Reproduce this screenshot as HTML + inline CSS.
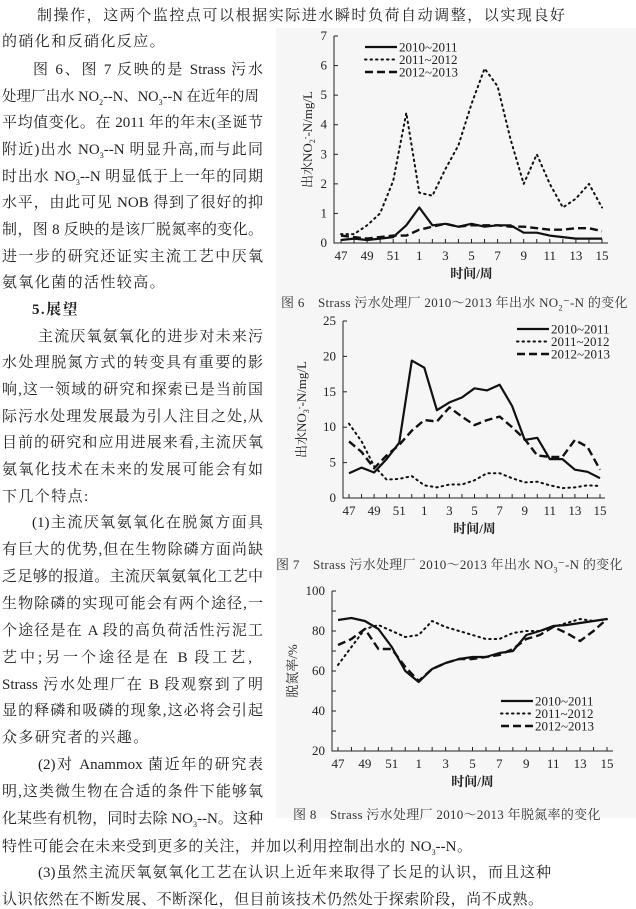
<!DOCTYPE html>
<html><head><meta charset="utf-8">
<style>
body{margin:0;width:636px;height:907px;overflow:hidden;background:#fff;position:relative;font-family:"Liberation Serif","Noto Serif CJK SC","Noto Sans CJK SC",serif;color:#222}
.l{position:absolute;font-size:15px;letter-spacing:1.4px;white-space:nowrap;line-height:18px}
.j{letter-spacing:0;white-space:normal;text-align:justify;text-align-last:justify;width:261px;height:18px;overflow:visible}
sub{line-height:0}
.cap{position:absolute;font-size:13px;white-space:nowrap;color:#333;letter-spacing:0.3px}
svg{position:absolute;left:0;top:0}
</style></head><body>
<div style="position:absolute;left:276px;top:28px;width:360px;height:790px;background:#f6f6f6"></div>
<div>
<div class="l j" style="left:37px;top:7px;width:528px">制操作，这两个监控点可以根据实际进水瞬时负荷自动调整，以实现良好</div>
<div class="l" style="left:2px;top:33px">的硝化和反硝化反应。</div>
<div class="l j" style="left:33px;top:61px;width:230px">图 6、图 7 反映的是 Strass 污水</div>
<div class="l" style="left:2px;top:88px;font-size:14.5px;letter-spacing:0">处理厂出水 NO<sub style="font-size:8px">2</sub>--N、NO<sub style="font-size:8px">3</sub>--N 在近年的周</div>
<div class="l j" style="left:2px;top:114px">平均值变化。在 2011 年的年末(圣诞节</div>
<div class="l j" style="left:2px;top:141px">附近)出水 NO<sub style="font-size:8px">3</sub>--N 明显升高,而与此同</div>
<div class="l j" style="left:2px;top:168px">时出水 NO<sub style="font-size:8px">3</sub>--N 明显低于上一年的同期</div>
<div class="l j" style="left:2px;top:194px">水平，由此可见 NOB 得到了很好的抑</div>
<div class="l j" style="left:2px;top:221px">制，图 8 反映的是该厂脱氮率的变化。</div>
<div class="l j" style="left:2px;top:248px">进一步的研究还证实主流工艺中厌氧</div>
<div class="l" style="left:2px;top:274px">氨氧化菌的活性较高。</div>
<div class="l" style="left:32px;top:301px;font-weight:bold">5.展望</div>
<div class="l j" style="left:38px;top:328px;width:225px">主流厌氧氨氧化的进步对未来污</div>
<div class="l j" style="left:2px;top:354px">水处理脱氮方式的转变具有重要的影</div>
<div class="l j" style="left:2px;top:381px">响,这一领域的研究和探索已是当前国</div>
<div class="l j" style="left:2px;top:408px">际污水处理发展最为引人注目之处,从</div>
<div class="l j" style="left:2px;top:434px">目前的研究和应用进展来看,主流厌氧</div>
<div class="l j" style="left:2px;top:461px">氨氧化技术在未来的发展可能会有如</div>
<div class="l" style="left:2px;top:488px">下几个特点:</div>
<div class="l j" style="left:32px;top:514px;width:231px">(1)主流厌氧氨氧化在脱氮方面具</div>
<div class="l j" style="left:2px;top:541px">有巨大的优势,但在生物除磷方面尚缺</div>
<div class="l j" style="left:2px;top:568px">乏足够的报道。主流厌氧氨氧化工艺中</div>
<div class="l j" style="left:2px;top:595px">生物除磷的实现可能会有两个途径,一</div>
<div class="l j" style="left:2px;top:622px">个途径是在 A 段的高负荷活性污泥工</div>
<div class="l j" style="left:2px;top:649px;width:250px">艺中;另一个途径是在 B 段工艺,</div>
<div class="l j" style="left:2px;top:676px">Strass 污水处理厂在 B 段观察到了明</div>
<div class="l j" style="left:2px;top:702px">显的释磷和吸磷的现象,这必将会引起</div>
<div class="l" style="left:2px;top:729px">众多研究者的兴趣。</div>
<div class="l j" style="left:38px;top:756px;width:225px">(2)对 Anammox 菌近年的研究表</div>
<div class="l j" style="left:2px;top:783px">明,这类微生物在合适的条件下能够氧</div>
<div class="l j" style="left:2px;top:810px">化某些有机物，同时去除 NO<sub style="font-size:8px">3</sub>--N。这种</div>
<div class="l j" style="left:2px;top:838px;width:470px">特性可能会在未来受到更多的关注，并加以利用控制出水的 NO<sub style="font-size:8px">3</sub>--N。</div>
<div class="l j" style="left:38px;top:864px;width:513px">(3)虽然主流厌氧氨氧化工艺在认识上近年来取得了长足的认识，而且这种</div>
<div class="l j" style="left:2px;top:891px;width:541px">认识依然在不断发展、不断深化，但目前该技术仍然处于探索阶段，尚不成熟。</div>
</div>
<div class="cap" style="left:281px;top:292px">图 6　Strass 污水处理厂 2010～2013 年出水 NO<sub style="font-size:8px">2</sub>⁻-N 的变化</div>
<div class="cap" style="left:276px;top:554px">图 7　Strass 污水处理厂 2010～2013 年出水 NO<sub style="font-size:8px">3</sub>⁻-N 的变化</div>
<div class="cap" style="left:293px;top:804px">图 8　Strass 污水处理厂 2010～2013 年脱氮率的变化</div>
<svg id="svg" width="636" height="907"></svg>
<script>
const weeks=["47","48","49","50","51","52","1","2","3","4","5","6","7","8","9","10","11","12","13","14","15"];
const tickLabels=["47","49","51","1","3","5","7","9","11","13","15"];
const seriesNames=["2010~2011","2011~2012","2012~2013"];
const no2A=[0.1,0.15,0.1,0.15,0.2,0.6,1.2,0.6,0.65,0.55,0.65,0.55,0.6,0.6,0.35,0.35,0.25,0.2,0.15,0.15,0.15];
const no2B=[0.3,0.3,0.6,1.0,2.1,4.4,1.7,1.6,2.5,3.3,4.7,5.9,5.3,3.5,2.0,3.0,2.0,1.2,1.5,2.0,1.2];
const no2C=[0.25,0.2,0.15,0.2,0.25,0.25,0.45,0.55,0.65,0.55,0.6,0.6,0.6,0.55,0.55,0.5,0.45,0.45,0.5,0.5,0.4];
const no3A=[3.5,4.3,3.6,5.5,7.8,19.4,18.4,12.4,13.5,14.2,15.5,15.2,16.0,13.0,8.2,8.5,5.5,5.5,4.0,3.7,2.8];
const no3B=[10.5,8,4.5,2.6,2.7,3.1,1.8,1.5,1.9,1.9,2.5,3.5,3.5,2.8,2.2,2.3,1.8,1.4,1.5,1.8,1.7];
const no3C=[8,6.5,4.2,6,7.5,9.5,11,10.8,12.8,11.5,10.3,11,11.5,10,8.3,6,5.8,5.8,8.2,7.2,4];
const remA=[85.5,86.5,85,81,72,60,54.5,61,64,66,67,67,69,70,78,80,82.5,83,84,85,86];
const remB=[63,72,81,83,80,77,78,85,82,80,78,76,76,79,80,80,82,84,86,85,86];
const remC=[73,76,81,71,71,62,55,61,64,66,66,67,68,71,76,78,82,79,75,80,86];
const yTicks1=[0,1,2,3,4,5,6,7];
const yTicks2=[0,5,10,15,20,25];
const yTicks3=[20,40,60,80,100];

const NS="http://www.w3.org/2000/svg";
const svg=document.getElementById('svg');
function el(t,a,p){const e=document.createElementNS(NS,t);for(const k in a)e.setAttribute(k,a[k]);(p||svg).appendChild(e);return e;}
const styles=[{w:2.2,d:""},{w:2,d:"1.5 4"},{w:2.4,d:"8 4"}];

function chart(c){
  const g=el('g',{});
  
  
  const sx=i=>c.x0+(c.x1-c.x0)*i/(weeks.length-1);
  const sy=v=>c.yb-(c.yb-c.yt)*(v-c.min)/(c.max-c.min);
  const ax=el('path',{d:`M${c.ax} ${c.yt} V${c.yb} H${c.axEnd}`,stroke:'#222','stroke-width':1,fill:'none'},g);
  
  
  c.yt_.forEach((v,i)=>{
    el('line',{x1:c.ax,x2:c.ax+4,y1:sy(v),y2:sy(v),stroke:'#222'},g);
    if(c.minor&&i<c.yt_.length-1){const m=(v+c.yt_[i+1])/2;el('line',{x1:c.ax,x2:c.ax+4,y1:sy(m),y2:sy(m),stroke:'#222'},g);}
    const t=el('text',{x:c.ax-7,y:sy(v)+4,'text-anchor':'end','font-size':13,fill:'#222'},g);
    t.textContent=v;
    
    
  });
  weeks.forEach((w,i)=>{el('line',{x1:sx(i),x2:sx(i),y1:c.yb,y2:c.yb-4,stroke:'#222'},g);});
  weeks.forEach((w,i)=>{if(tickLabels.includes(w)){const t=el('text',{x:sx(i),y:c.yb+17,'text-anchor':'middle','font-size':13,fill:'#222'},g);t.textContent=w;
    
    }});
  const xt=el('text',{x:(c.x0+c.x1)/2,y:c.yb+35,'text-anchor':'middle','font-size':13,'font-weight':'bold',fill:'#222'},g);
  xt.textContent='时间/周';
  
  
  const yt=el('text',{x:0,y:0,'text-anchor':'middle','font-size':13,fill:'#222',transform:`translate(${c.ytx},${(c.yt+c.yb)/2}) rotate(-90)`},g);
  yt.innerHTML=c.ytitle;
  
  
  c.series.forEach((s,k)=>{
    const p=el('path',{d:s.map((v,i)=>(i?'L':'M')+sx(i).toFixed(1)+' '+sy(v).toFixed(1)).join(''),fill:'none',stroke:'#111','stroke-width':styles[k].w,'stroke-dasharray':styles[k].d,'stroke-linecap':k==1?'round':'butt','stroke-linejoin':'round'},g);
    
    
  });
  seriesNames.forEach((n,k)=>{
    const y=c.lg[1]+k*12.5;
    const lg=el('g',{},g);
    
    
    el('line',{x1:c.lg[0],x2:c.lg[0]+32,y1:y,y2:y,stroke:'#111','stroke-width':styles[k].w,'stroke-dasharray':styles[k].d,'stroke-linecap':k==1?'round':'butt'},lg);
    const t=el('text',{x:c.lg[0]+34,y:y+4.5,'font-size':13,fill:'#222'},lg);t.textContent=n;
  });
}
chart({name:'chart-no2',ax:334,axEnd:608,x0:341,x1:602,yt:36,yb:243,min:0,max:7,yt_:yTicks1,series:[no2A,no2B,no2C],lg:[365,47],ytx:312,ytitle:'出水NO<tspan font-size="8" dy="3">2</tspan><tspan dy="-7" font-size="8">-</tspan><tspan dy="4">-N/mg/L</tspan>'});
chart({name:'chart-no3',ax:343,axEnd:605,x0:349,x1:600,yt:321,yb:498,min:0,max:25,yt_:yTicks2,series:[no3A,no3B,no3C],lg:[517,329],ytx:306,ytitle:'出水NO<tspan font-size="8" dy="3">3</tspan><tspan dy="-7" font-size="8">-</tspan><tspan dy="4">-N/mg/L</tspan>'});
chart({name:'chart-removal',ax:332,axEnd:613,x0:338,x1:607,yt:591,yb:751,min:20,max:100,yt_:yTicks3,minor:true,series:[remA,remB,remC],lg:[501,701],ytx:297,ytitle:'脱氮率/%'});
</script>
</body></html>
